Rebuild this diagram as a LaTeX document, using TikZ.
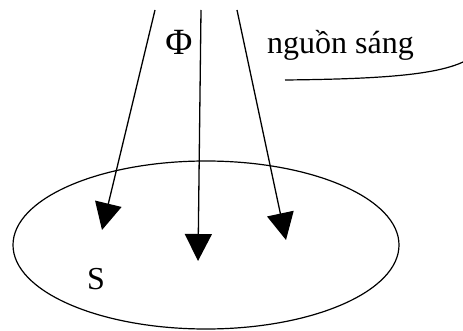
\documentclass[tikz,border=0pt]{standalone}
\usepackage{fontspec}
\setmainfont{Liberation Serif}
\usetikzlibrary{arrows.meta,shapes.geometric}
\tikzset{
  ray/.style={line width=1.3pt, -{Triangle[length=27pt,width=27pt]}},
  lbl/.style={inner sep=0pt, font=\fontsize{32}{38}\selectfont},
}
\begin{document}
\begin{tikzpicture}[x=1pt,y=-1pt]
\useasboundingbox (0,0) rectangle (463,331);
\node[ellipse, draw, line width=1.2pt, minimum width=386pt, minimum height=168pt, inner sep=0pt] (surf) at (206,245) {};
\coordinate (a1) at (155,10);
\coordinate (b1) at (102,230);
\coordinate (a2) at (201,10);
\coordinate (b2) at (198,261);
\coordinate (a3) at (237,10);
\coordinate (b3) at (286,240);
\draw[ray] (a1) -- (b1);
\draw[ray] (a2) -- (b2);
\draw[ray] (a3) -- (b3);
\node[lbl, font=\fontsize{37}{42}\selectfont] (phi) at (179,42) {Φ};
\node[lbl, anchor=west] (src) at (267,45) {nguồn sáng};
\node[lbl] (s) at (96,279) {S};
\coordinate (c1) at (285,80);
\coordinate (c2) at (463,62);
\draw[line width=1.2pt] (c1) .. controls (380,79) and (435,75) .. (c2);
\end{tikzpicture}
\end{document}
